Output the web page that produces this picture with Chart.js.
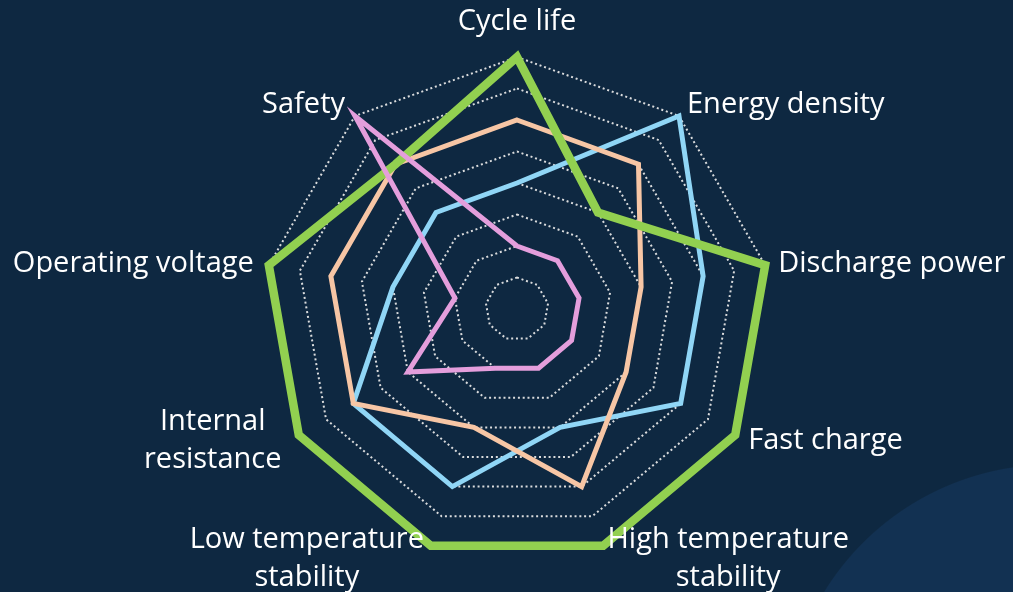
<!DOCTYPE html>
<html>
<head>
<meta charset="utf-8">
<script src="https://cdn.jsdelivr.net/npm/chart.js@4/dist/chart.umd.min.js"></script>
<style>
  html, body { margin: 0; padding: 0; }
  body {
    width: 1013px; height: 592px; overflow: hidden;
    background-color: #0e2841;
    background-image: radial-gradient(circle 268px at 1052px 732px, #123152 99.6%, rgba(18,49,82,0) 100%);
  }
  #wrap { position: relative; width: 1013px; height: 592px; }
</style>
</head>
<body>
<div id="wrap"><canvas id="c" width="1013" height="592"></canvas></div>
<script>
// ---- data ----
const categories = [
  'Cycle life',
  'Energy density',
  'Discharge power',
  'Fast charge',
  ['High temperature', 'stability'],
  ['Low temperature', 'stability'],
  ['Internal', 'resistance'],
  'Operating voltage',
  'Safety'
];
const seriesNames = ['Series A', 'Series B', 'Series C', 'Series D'];
const seriesA = [6, 6, 4, 4, 6, 4, 6, 6, 6];   // peach
const seriesB = [8, 4, 8, 8, 8, 8, 8, 8, 6];   // green
const seriesC = [4, 8, 6, 6, 4, 6, 6, 4, 4];   // light blue
const seriesD = [2, 2, 2, 2, 2, 2, 4, 2, 8];   // pink
const scaleMin = 0;
const scaleMax = 8;
const scaleStep = 1;

// ---- label layout (offsets from the outer end of each spoke) ----
const labelLayout = [
  { align: 'center', dx: 0,    dy: -35 },
  { align: 'left',   dx: 8,    dy: -11 },
  { align: 'left',   dx: 13,   dy: -2 },
  { align: 'left',   dx: 13,   dy: 6 },
  { align: 'center', dx: 125,  dy: -6 },
  { align: 'center', dx: -124, dy: -6 },
  { align: 'center', dx: -86,  dy: -13 },
  { align: 'right',  dx: -15,  dy: -2 },
  { align: 'right',  dx: -10,  dy: -11 }
];
const labelFont = '29px "Open Sans", "Noto Sans", sans-serif';
const labelLineHeight = 38;

const labelPlugin = {
  id: 'spokeLabels',
  afterDraw(chart) {
    const scale = chart.scales.r;
    const ctx = chart.ctx;
    ctx.save();
    ctx.font = labelFont;
    ctx.fillStyle = '#ffffff';
    ctx.textBaseline = 'middle';
    categories.forEach((lab, i) => {
      const p = scale.getPointPosition(i, scale.drawingArea);
      const L = labelLayout[i];
      const lines = Array.isArray(lab) ? lab : [lab];
      ctx.textAlign = L.align;
      lines.forEach((t, j) => {
        ctx.fillText(t, p.x + L.dx, p.y + L.dy + j * labelLineHeight);
      });
    });
    ctx.restore();
  }
};

new Chart(document.getElementById('c'), {
  type: 'radar',
  data: {
    labels: categories,
    datasets: [
      { label: seriesNames[0], data: seriesA, borderColor: '#f7c6a5', borderWidth: 5, order: 3 },
      { label: seriesNames[1], data: seriesB, borderColor: '#92d050', borderWidth: 8.5, order: 2 },
      { label: seriesNames[2], data: seriesC, borderColor: '#90d6f6', borderWidth: 5, order: 4 },
      { label: seriesNames[3], data: seriesD, borderColor: '#e49edc', borderWidth: 5, order: 1 }
    ]
  },
  options: {
    responsive: false,
    animation: false,
    devicePixelRatio: 1,
    layout: { padding: { top: 57, bottom: 31, left: 21, right: 0 } },
    plugins: { legend: { display: false }, tooltip: { enabled: false } },
    elements: {
      line: { tension: 0, fill: false, borderJoinStyle: 'miter' },
      point: { radius: 0, hoverRadius: 0 }
    },
    scales: {
      r: {
        min: scaleMin,
        max: scaleMax,
        ticks: { stepSize: scaleStep, display: false },
        angleLines: { display: false },
        grid: { color: 'rgba(230,230,230,0.95)', lineWidth: 2, borderDash: [2, 2.8] },
        border: { dash: [2, 2.8] },
        pointLabels: { display: false }
      }
    }
  },
  plugins: [labelPlugin]
});
</script>
</body>
</html>
